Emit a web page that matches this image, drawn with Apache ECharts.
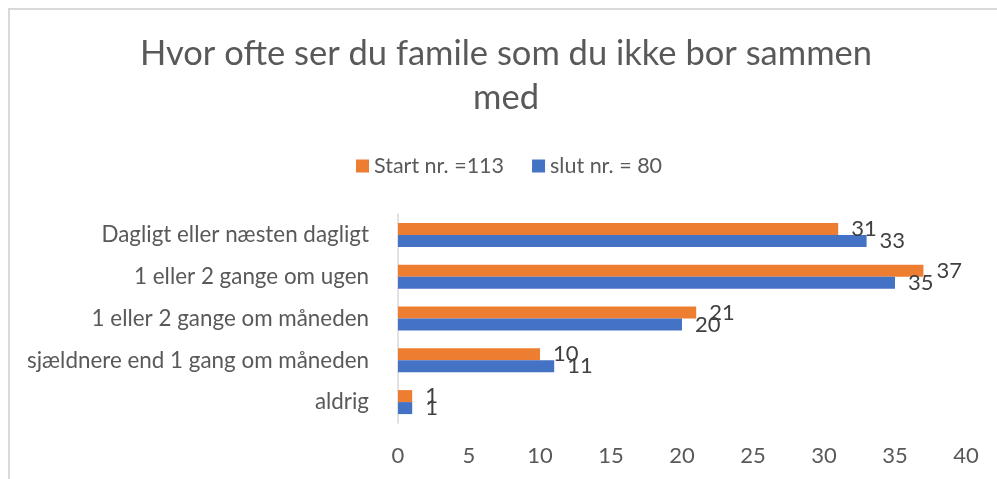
<!DOCTYPE html>
<html>
<head>
<meta charset="utf-8">
<script src="https://cdn.jsdelivr.net/npm/echarts@6/dist/echarts.min.js"></script>
<style>
  html, body { margin: 0; padding: 0; background: #fff; }
  #chart { width: 997px; height: 479px; }
</style>
</head>
<body>
<div id="chart"></div>
<script>
const categories = [
  "Dagligt eller næsten dagligt",
  "1 eller 2 gange om ugen",
  "1 eller 2 gange om måneden",
  "sjældnere end 1 gang om måneden",
  "aldrig",
];
const startValues = [31, 37, 21, 10, 1];
const slutValues = [33, 35, 20, 11, 1];
const startName = "Start nr. =113";
const slutName = "slut nr. = 80";

const font = "Lato";
const textGrey = "#595959";

const chart = echarts.init(document.getElementById("chart"));

const labelStyle = {
  show: true,
  position: "right",
  distance: 13,
  color: "#404040",
  fontFamily: font,
  fontSize: 22,
};

const option = {
  animation: false,
  backgroundColor: "#fff",
  graphic: [
    {
      type: "rect",
      shape: { x: 9, y: 9, width: 1200, height: 800 },
      style: { fill: "none", stroke: "#D9D9D9", lineWidth: 2 },
      silent: true,
    },
  ],
  title: {
    text: "Hvor ofte ser du famile som du ikke bor sammen\nmed",
    left: 501,
    textAlign: "center",
    top: 27,
    textStyle: {
      color: textGrey,
      fontFamily: font,
      fontWeight: "normal",
      fontSize: 34.5,
      lineHeight: 44,
    },
  },
  legend: {
    data: [startName, slutName],
    top: 150,
    left: 351,
    itemWidth: 13,
    itemHeight: 13,
    itemGap: 28,
    icon: "rect",
    textStyle: { color: textGrey, fontFamily: font, fontSize: 21.5 },
  },
  grid: {
    left: 398,
    right: 31,
    top: 214,
    bottom: 56,
    containLabel: false,
  },
  xAxis: {
    type: "value",
    min: 0,
    max: 40,
    interval: 5,
    splitLine: { show: false },
    axisLine: { show: false },
    axisTick: { show: false },
    axisLabel: {
      color: textGrey,
      fontFamily: font,
      fontSize: 22,
      margin: 22,
    },
  },
  yAxis: {
    type: "category",
    inverse: true,
    data: categories,
    axisTick: { show: false },
    axisLine: { lineStyle: { color: "#D9D9D9", width: 1.5 } },
    axisLabel: {
      color: textGrey,
      fontFamily: font,
      fontSize: 22.4,
      margin: 29,
    },
  },
  series: [
    {
      name: startName,
      type: "bar",
      data: startValues,
      itemStyle: { color: "#ED7D31" },
      barWidth: 12,
      barGap: "0%",
      label: labelStyle,
    },
    {
      name: slutName,
      type: "bar",
      data: slutValues,
      itemStyle: { color: "#4472C4" },
      barWidth: 12,
      barGap: "0%",
      label: labelStyle,
    },
  ],
};

chart.setOption(option);
</script>
</body>
</html>
